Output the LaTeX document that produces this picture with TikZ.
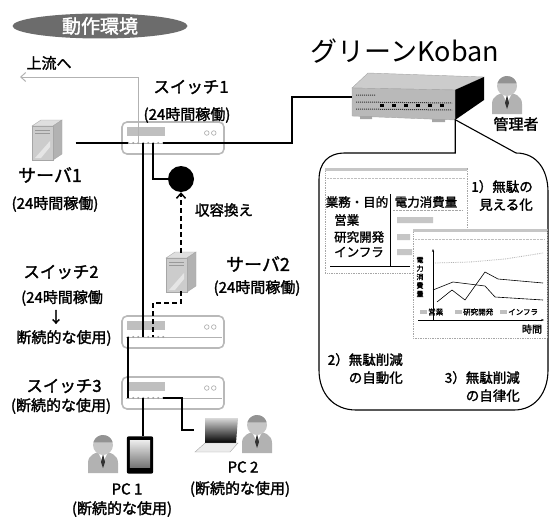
\documentclass[tikz,border=0pt]{standalone}
\usepackage{fontspec}
\setmainfont{Noto Sans CJK JP}[AutoFakeBold=1.7]
\usepackage{tikz}
\usetikzlibrary{arrows.meta,calc,shapes.geometric}

\tikzset{
  txt/.style={inner sep=0pt},
  devname/.style={txt, font=\bfseries\fontsize{16.5}{17}\selectfont},
  remark/.style={txt, font=\bfseries\fontsize{15}{16}\selectfont},
  effect/.style={txt, font=\bfseries\fontsize{13.5}{18}\selectfont, align=right},
  tabtxt/.style={txt, font=\bfseries\fontsize{12.5}{13}\selectfont},
  link/.style={line width=1.8pt},
  spare/.style={line width=1.5pt, dash pattern=on 5pt off 3pt},
  upline/.style={gray!60, line width=1pt, -{Straight Barb[length=5pt,width=9pt]}},
  switchbox/.style={draw=gray!55, line width=1.6pt, rounded corners=5pt,
    minimum width=102pt, minimum height=32pt, inner sep=0pt},
  iconbox/.style={inner sep=0pt, minimum width=#1},
  iconbox/.default=30pt,
  hub/.style={circle, fill=black, minimum size=26pt, inner sep=0pt},
  winframe/.style={draw=gray!70, densely dotted, line width=0.7pt, fill=white},
}

% user with shirt and tie
\newcommand\drawperson[1]{%
  \begin{scope}[shift={(#1.center)}]
    \fill[gray!60] (-15,19) -- (-15,9) .. controls (-15,1) and (-8,-2) .. (0,-2)
      .. controls (8,-2) and (15,1) .. (15,9) -- (15,19) -- cycle;
    \fill[white] (-5,-2) -- (5,-2) -- (0,8) -- cycle;
    \fill[black!80] (0,0) -- (-2,8) -- (0,14) -- (2,8) -- cycle;
    \fill[gray!45] (0,-9) circle (10pt);
    \fill[gray!85] (0,-9) ++(195:10) arc (195:345:10) -- cycle;
  \end{scope}}

% tower server
\newcommand\drawtower[1]{%
  \begin{scope}[shift={(#1.center)}]
    \filldraw[draw=gray!70, fill=gray!25] (-15,-14) -- (-6,-20) -- (15,-20) -- (6,-14) -- cycle;
    \filldraw[draw=gray!70, fill=gray!60] (6,-14) -- (15,-20) -- (15,14) -- (6,20) -- cycle;
    \filldraw[draw=gray!70, fill=gray!40] (-15,-14) rectangle (6,20);
    \fill[gray!20] (-12,18) -- (3,1) -- (3,7) -- (-6,18) -- cycle;
    \draw[gray!80] (-12,-10) -- (3,-10) (-12,-7) -- (3,-7);
  \end{scope}}

\begin{document}
\begin{tikzpicture}[x=1pt,y=-1pt]
\useasboundingbox (0,0) rectangle (551,519);

\node[ellipse, fill=gray!85!black, minimum width=175pt, minimum height=25pt, inner sep=0pt,
  text=white, font=\bfseries\fontsize{19}{19}\selectfont] (title) at (100,26) {動作環境};

% switches with ports
\foreach \s/\y in {sw1/138, sw2/332, sw3/393}{
  \node[switchbox] (\s) at (173,\y) {};
  \fill[gray!50] ($(\s.north west)+(6,6)$) rectangle +(38,9);
  \draw[gray!60, line width=0.6pt] ($(\s.west)+(5,5)$) -- ($(\s.east)+(-3,5)$);
  \foreach \k in {0,...,7}{
    \coordinate (\s-\k) at ($(\s.west)+(7+5*\k,5)$);
    \fill[gray!75] (\s-\k) circle (1.1pt);
  }
  \draw[gray!70, line width=0.6pt] ($(\s.east)+(-18,-5)$) circle (2.3pt)
    ($(\s.east)+(-11,-5)$) circle (2.3pt);
}

\node[iconbox=31pt, minimum height=40pt] (srv1) at (47,140) {};
\node[iconbox=31pt, minimum height=38pt] (srv2) at (181,272) {};
\drawtower{srv1}
\drawtower{srv2}
\node[hub] (hub) at (181,179) {};

% Koban box
\filldraw[draw=gray!70, fill=gray!40] (352,88) -- (368,73) -- (484,77) -- (455,90) -- cycle;
\fill[black] (455,90) -- (484,77) -- (484,100) -- (455,120) -- cycle;
\filldraw[draw=gray!70, fill=gray!55] (352,88) -- (455,90) -- (455,120) -- (352,116) -- cycle;
\draw[black!80, densely dotted, line width=1pt] (356,95) -- (375,95) (356,102) -- (452,103)
  (356,109) -- (452,110);
\foreach \x in {380,392,404,416,428,440} \fill[black] (\x,104) rectangle +(4,3);
\fill[gray!70] (360,116) rectangle (372,119) (432,119) rectangle (445,122);
\node[iconbox=103pt, minimum height=31pt] (koban) at (403.5,104) {};
\node[txt, font=\fontsize{27}{27}\selectfont] (kobanname) at (405,51) {グリーンKoban};

\node[iconbox=30pt, minimum height=40pt] (admin) at (507,95) {};
\node[iconbox=30pt, minimum height=40pt] (user1) at (103,454) {};
\node[iconbox=30pt, minimum height=40pt] (user2) at (257,434) {};
\drawperson{admin}
\drawperson{user1}
\drawperson{user2}

% PC 1 handset
\node[iconbox=26pt, minimum height=37pt] (phone) at (140,455) {};
\fill[black, rounded corners=2pt] (phone.north west) rectangle (phone.south east);
\shade[top color=gray!15, bottom color=gray!90!black] ($(phone.north west)+(3,4)$)
  rectangle ($(phone.south east)+(-3,-6)$);

% PC 2 laptop
\node[iconbox=45pt, minimum height=34pt] (laptop) at (217,435) {};
\shade[top color=gray!30, bottom color=black] (205,418) -- (238,418) -- (236,443) -- (205,443) -- cycle;
\filldraw[draw=gray!70, fill=gray!15] (195,452) -- (230,452) -- (238,443) -- (205,443) -- cycle;

% connections
\coordinate (up) at (20,77);
\draw[upline] (sw1-2) |- (up);
\draw[link] ($(srv1.east)+(13,3)$) -- (sw1-0);
\draw[link] (sw1-7) -- ++(129,0) |- ($(koban.west)+(0,-7)$);
\draw[link] (sw1-5) |- (hub.west);
\draw[link] (sw1-3) -- (sw2-3);
\draw[spare, -{Straight Barb[length=5pt,width=9pt]}] (srv2.north) -- (hub.south);
\draw[spare] (srv2.south) -- ++(0,12) -| (sw2-5);
\draw[link] (sw2-0) -- (sw3-0);
\draw[link] (sw3-3) -- (sw3-3 |- phone.north);
\draw[link] (sw3-7) -- ++(19,0) |- ($(laptop.west)+(0,-5)$);

% callout from Koban
\draw[line width=1.1pt, fill=white] (koban.south east) |- (345,153)
  .. controls (328,153) and (319,163) .. (319,180) -- (319,370)
  .. controls (319,393) and (333,410) .. (356,410) -- (514,410)
  .. controls (535,410) and (548,393) .. (548,370) -- (548,192)
  .. controls (548,170) and (537,153) .. (516,153) -- cycle;

% table window
\draw[winframe] (325,168) rectangle (467,273);
\fill[gray!45] (325,168) rectangle (467,171);
\draw[gray!50, densely dotted] (327,178) -- (465,178);
\node[tabtxt] (colA) at (357,202) {業務・目的};
\node[tabtxt] (colB) at (426,202) {電力消費量};
\draw[line width=0.6pt] (390,194) -- (390,266) (330,266) -- (410,266);
\draw[gray!70, densely dotted] (393,210) -- (462,210);
\node[tabtxt, anchor=west] (rowA) at (334,220) {営業};
\node[tabtxt, anchor=west] (rowB) at (334,237) {研究開発};
\node[tabtxt, anchor=west] (rowC) at (334,252) {インフラ};
\fill[gray!45] (397,217) rectangle (433,223) (397,234) rectangle (410,240) (397,249) rectangle (412,255);

% chart window
\draw[winframe] (413,229) rectangle (547,338);
\fill[gray!45] (413,229) rectangle (547,232);
\draw[gray!50, densely dotted] (415,239) -- (545,239);
\draw[line width=0.6pt, -{Stealth[length=3pt]}] (433,320) -- (433,249);
\draw[line width=0.6pt, -{Stealth[length=3pt]}] (418,320) -- (544,320);
\draw[gray!60, densely dotted, line width=0.8pt] (435,263) -- (470,262) -- (505,259) -- (543,253);
\draw[line width=0.6pt] (437,302) -- (452,290) -- (465,300) -- (485,272) -- (498,279) -- (543,283);
\draw[line width=0.6pt] (433,290) -- (453,282) -- (485,286) -- (495,297) -- (543,300);
\node[txt, font=\bfseries\fontsize{7}{8.5}\selectfont, align=center] (ylab) at (420,277) {電\\力\\消\\費\\量};
\foreach \x/\t in {420/営業, 455/研究開発, 500/インフラ}{
  \fill[gray!50] (\x,310) rectangle +(7,4);
  \node[txt, anchor=west, font=\bfseries\fontsize{7.5}{8}\selectfont] at (\x+8,312) {\t};
}
\node[txt, font=\bfseries\fontsize{10}{10}\selectfont] (xlab) at (532,329) {時間};

\node[effect, anchor=north east] (eff1) at (533,180) {1）無駄の\\見える化};
\node[effect, anchor=north east] (eff2) at (403,353) {2）無駄削減\\の自動化};
\node[effect, anchor=north east] (eff3) at (520,371) {3）無駄削減\\の自律化};

% labels
\node[txt, font=\bfseries\fontsize{15}{15}\selectfont] (upl) at (49,63) {上流へ};
\node[devname] (sw1name) at (191,87) {スイッチ1};
\node[remark] (sw1use) at (187,115) {(24時間稼働)};
\node[devname, font=\bfseries\fontsize{18}{18}\selectfont] (srv1name) at (50,175) {サーバ1};
\node[remark] (srv1use) at (55,204) {(24時間稼働)};
\node[txt, font=\bfseries\fontsize{14.5}{15}\selectfont] (move) at (224,210) {収容換え};
\node[devname, font=\bfseries\fontsize{18}{18}\selectfont] (srv2name) at (258,264) {サーバ2};
\node[remark] (srv2use) at (257,288) {(24時間稼働)};
\node[devname] (sw2name) at (61,272) {スイッチ2};
\node[remark] (sw2useA) at (62,298) {(24時間稼働};
\node[remark] (sw2arr) at (56,317) {↓};
\node[remark] (sw2useB) at (64,338) {断続的な使用)};
\node[devname] (sw3name) at (64,386) {スイッチ3};
\node[remark] (sw3use) at (61,406) {(断続的な使用)};
\node[txt, font=\bfseries\fontsize{15}{15}\selectfont] (pc1name) at (127,489) {PC 1};
\node[remark] (pc1use) at (122,509) {(断続的な使用)};
\node[txt, font=\bfseries\fontsize{15}{15}\selectfont] (pc2name) at (243,467) {PC 2};
\node[remark] (pc2use) at (240,489) {(断続的な使用)};
\node[txt, font=\bfseries\fontsize{15}{15}\selectfont] (adminname) at (516,124) {管理者};
\end{tikzpicture}
\end{document}
